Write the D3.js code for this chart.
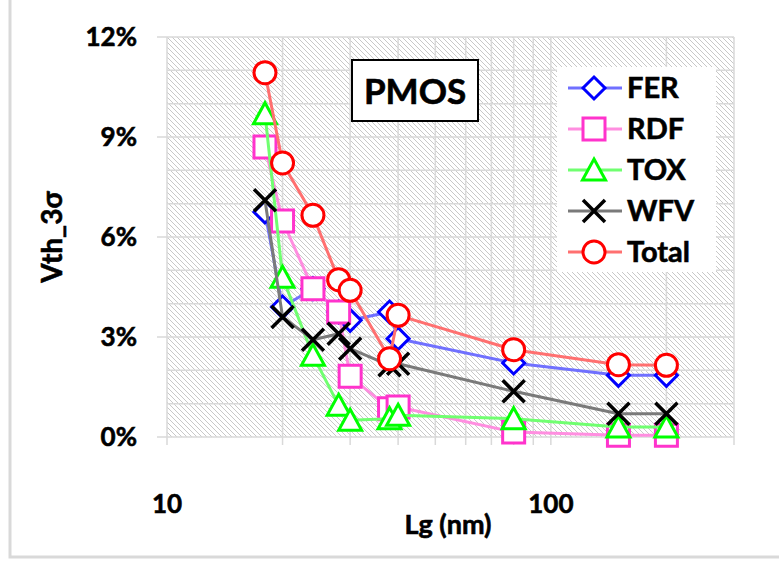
<!DOCTYPE html>
<html>
<head>
<meta charset="utf-8">
<script src="https://cdn.jsdelivr.net/npm/d3@7"></script>
<style>
  body { margin: 0; background: #fff; }
  svg text { font-family: Lato, "Open Sans", sans-serif; font-weight: 700; fill: #000; stroke: #000; stroke-width: 0.6px; }
</style>
</head>
<body>
<div id="chart"></div>
<script>
// Gate length (nm) and Vth 3-sigma (%) per variability source
const lengths = [18, 20, 24, 28, 30, 38, 40, 80, 150, 200];
const fer   = [6.75, 3.9, 4.45, 3.75, 3.5, 3.75, 2.95, 2.22, 1.85, 1.85];
const rdf   = [8.7, 6.48, 4.45, 3.75, 1.82, 0.85, 0.9, 0.15, 0.05, 0.05];
const tox   = [9.7, 4.79, 2.45, 0.95, 0.5, 0.55, 0.65, 0.55, 0.3, 0.3];
const wfv   = [7.1, 3.6, 2.92, 3.1, 2.65, 2.15, 2.2, 1.37, 0.7, 0.7];
const total = [10.93, 8.22, 6.65, 4.72, 4.4, 2.35, 3.65, 2.62, 2.17, 2.15];

const seriesNames = ["FER", "RDF", "TOX", "WFV", "Total"];
const yTicks = [0, 3, 6, 9, 12];
const xTickLabels = [10, 100];
const xGridValues = [20, 30, 40, 50, 60, 70, 80, 90, 100, 200, 300];

const W = 779, H = 563;
const plot = { left: 167, top: 37, right: 734, bottom: 437 };

const svg = d3.select("#chart").append("svg")
    .attr("width", W)
    .attr("height", H);

const x = d3.scaleLog().domain([10, 300]).range([plot.left, plot.right]);
const y = d3.scaleLinear().domain([0, 12]).range([plot.bottom, plot.top]);

// outer chart border (only left and bottom are inside the crop)
svg.append("path")
    .attr("d", `M10,0 V557 H${W}`)
    .attr("fill", "none")
    .attr("stroke", "#d9d9d9")
    .attr("stroke-width", 3);

// hatched plot background
const defs = svg.append("defs");
defs.append("pattern")
    .attr("id", "hatch")
    .attr("patternUnits", "userSpaceOnUse")
    .attr("width", 5).attr("height", 5)
    .append("path")
    .attr("d", "M-1,-1 L6,6 M-1,4 L1,6 M4,-1 L6,1")
    .attr("stroke", "#c8c8c8")
    .attr("stroke-width", 1);

svg.append("rect")
    .attr("x", plot.left).attr("y", plot.top)
    .attr("width", plot.right - plot.left)
    .attr("height", plot.bottom - plot.top)
    .attr("fill", "url(#hatch)");

// gridlines
svg.selectAll(".hgrid")
    .data(d3.range(0, 13))
    .enter().append("line")
    .attr("x1", plot.left).attr("x2", plot.right)
    .attr("y1", d => y(d)).attr("y2", d => y(d))
    .attr("stroke", "#d9d9d9")
    .attr("stroke-width", 1.5);

svg.selectAll(".vgrid")
    .data([10].concat(xGridValues))
    .enter().append("line")
    .attr("x1", d => x(d)).attr("x2", d => x(d))
    .attr("y1", plot.top).attr("y2", plot.bottom + 8)
    .attr("stroke", "#d9d9d9")
    .attr("stroke-width", 1.5);

// y ticks
svg.selectAll(".ytick")
    .data(yTicks)
    .enter().append("line")
    .attr("x1", plot.left - 10).attr("x2", plot.left)
    .attr("y1", d => y(d)).attr("y2", d => y(d))
    .attr("stroke", "#d9d9d9")
    .attr("stroke-width", 1.5);

svg.selectAll(".ylabel")
    .data(yTicks)
    .enter().append("text")
    .attr("x", 137)
    .attr("y", d => y(d))
    .attr("dy", "0.36em")
    .attr("text-anchor", "end")
    .style("font-size", "26px")
    .text(d => d + "%");

svg.selectAll(".xlabel")
    .data(xTickLabels)
    .enter().append("text")
    .attr("x", d => x(d))
    .attr("y", 504)
    .attr("dy", "0.36em")
    .attr("text-anchor", "middle")
    .style("font-size", "26px")
    .text(d => d);

// axis titles
svg.append("text")
    .attr("x", 448).attr("y", 524)
    .attr("dy", "0.36em")
    .attr("text-anchor", "middle")
    .style("font-size", "27px")
    .text("Lg (nm)");

svg.append("text")
    .attr("transform", "translate(52,237) rotate(-90)")
    .attr("dy", "0.36em")
    .attr("text-anchor", "middle")
    .style("font-size", "28px")
    .text("Vth_3σ");

// PMOS label box
svg.append("rect")
    .attr("x", 352).attr("y", 60)
    .attr("width", 126).attr("height", 61)
    .attr("fill", "#fff")
    .attr("stroke", "#000")
    .attr("stroke-width", 2);

svg.append("text")
    .attr("x", 415).attr("y", 91)
    .attr("dy", "0.36em")
    .attr("text-anchor", "middle")
    .style("font-size", "35px")
    .text("PMOS");

// marker shapes
function markerPath(type) {
    if (type === "diamond") return "M0,-11 L11,0 L0,11 L-11,0 Z";
    if (type === "square") return "M-11,-11 H11 V11 H-11 Z";
    if (type === "triangle") return "M0,-11 L11.5,10 L-11.5,10 Z";
    if (type === "cross") return "M-11,-11 L11,11 M11,-11 L-11,11";
    return "M11,0 A11,11 0 1,1 -11,0 A11,11 0 1,1 11,0 Z";
}

const series = [
    { name: seriesNames[0], values: fer,   marker: "diamond",  color: "#0000ff", line: "#7070ff" },
    { name: seriesNames[1], values: rdf,   marker: "square",   color: "#ff33cc", line: "#ff8ee0" },
    { name: seriesNames[2], values: tox,   marker: "triangle", color: "#00ff00", line: "#70ff70" },
    { name: seriesNames[3], values: wfv,   marker: "cross",    color: "#000000", line: "#7a7a7a" },
    { name: seriesNames[4], values: total, marker: "circle",   color: "#ff0000", line: "#ff7070" }
];

const line = d3.line()
    .x((d, i) => x(lengths[i]))
    .y(d => y(d));

series.forEach(s => {
    const g = svg.append("g");
    g.append("path")
        .attr("d", line(s.values))
        .attr("fill", "none")
        .attr("stroke", s.line)
        .attr("stroke-width", 3)
        .attr("stroke-linejoin", "round");

    g.selectAll(".marker")
        .data(s.values)
        .enter().append("path")
        .attr("transform", (d, i) => `translate(${x(lengths[i])},${y(d)})`)
        .attr("d", markerPath(s.marker))
        .attr("fill", s.marker === "cross" ? "none" : "#fff")
        .attr("stroke", s.color)
        .attr("stroke-width", s.marker === "cross" ? 3.5 : 3);
});

// legend
const legend = svg.append("g");
legend.append("rect")
    .attr("x", 557).attr("y", 67)
    .attr("width", 159).attr("height", 205)
    .attr("fill", "#fff");

const rows = legend.selectAll(".row")
    .data(series)
    .enter().append("g")
    .attr("transform", (d, i) => `translate(0,${88 + i * 41})`);

rows.append("line")
    .attr("x1", 568).attr("x2", 622)
    .attr("stroke", d => d.line)
    .attr("stroke-width", 3);

rows.append("path")
    .attr("transform", "translate(594,0)")
    .attr("d", d => markerPath(d.marker))
    .attr("fill", d => d.marker === "cross" ? "none" : "#fff")
    .attr("stroke", d => d.color)
    .attr("stroke-width", d => d.marker === "cross" ? 3.5 : 3);

rows.append("text")
    .attr("x", 627)
    .attr("dy", "0.36em")
    .style("font-size", "29px")
    .text(d => d.name);
</script>
</body>
</html>
